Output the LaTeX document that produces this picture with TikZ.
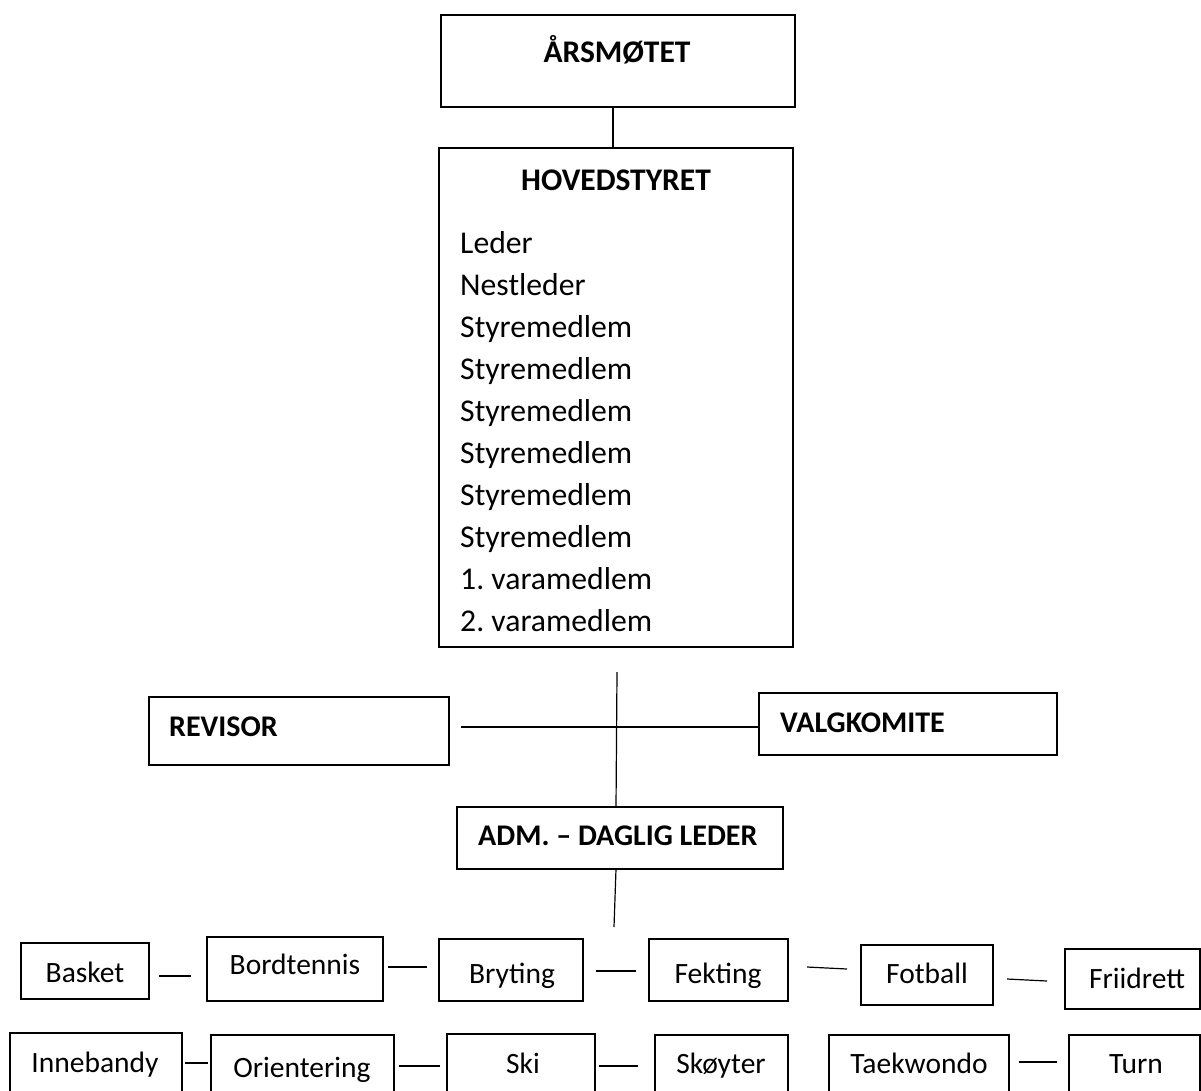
\documentclass[tikz,border=0pt]{standalone}
\usepackage{fontspec}
\setmainfont{Carlito}
\frenchspacing
\tikzset{
  box/.style={draw=black, line width=1.3pt, rectangle, inner sep=0pt},
  conn/.style={draw=black, line width=1.2pt},
  txt/.style={inner sep=0pt, anchor=base, text=black},
  head/.style={txt, font=\fontsize{31.5}{37}\selectfont\bfseries},
  subhead/.style={txt, font=\fontsize{30}{36}\selectfont\bfseries},
  member/.style={txt, anchor=base west, font=\fontsize{31.7}{38}\selectfont},
  sport/.style={txt, font=\fontsize{29.5}{35}\selectfont}
}
\newcommand\mkbox[5]{\node[box, minimum width=#4pt, minimum height=#5pt] (#1) at (#2,#3) {};}
\begin{document}
\begin{tikzpicture}[x=1pt,y=-1pt]
\useasboundingbox (0,0) rectangle (1201,1090);
% boxes
\mkbox{ars}{618}{61}{354}{92}
\mkbox{hov}{616}{397.5}{354}{499}
\mkbox{rev}{299}{731}{300}{68}
\mkbox{valg}{908}{724}{298}{62}
\mkbox{adm}{620}{838}{326}{62}
\mkbox{basket}{85}{971}{128}{56}
\mkbox{bord}{295}{969}{176}{64}
\mkbox{bryt}{511}{970}{144}{62}
\mkbox{fekt}{718.5}{970}{139}{62}
\mkbox{fotb}{927}{975}{132}{60}
\mkbox{frii}{1132.5}{979}{135}{60}
\mkbox{inne}{96}{1066.5}{172}{67}
\mkbox{orie}{302.5}{1067.5}{183}{65}
\mkbox{ski}{521}{1067}{148}{66}
\mkbox{skoy}{721.5}{1067.5}{133}{65}
\mkbox{taek}{919}{1067.5}{180}{65}
\mkbox{turn}{1134.5}{1067.5}{131}{65}
% texts
\node[head] (tars) at (617,62) {ÅRSMØTET};
\node[head] (thov) at (616,190) {HOVEDSTYRET};
\foreach \t [count=\i from 0] in {Leder,Nestleder,Styremedlem,Styremedlem,Styremedlem,Styremedlem,Styremedlem,Styremedlem,1. varamedlem,2. varamedlem}
  \node[member] (m\i) at (460,{253+42.1*\i}) {\t};
\node[subhead, anchor=base west] (trev) at (169,736) {REVISOR};
\node[subhead, anchor=base west] (tvalg) at (780,732) {VALGKOMITE};
\node[subhead, anchor=base west] (tadm) at (478,845) {ADM. – DAGLIG LEDER};
\node[sport] (tbasket) at (85,982) {Basket};
\node[sport] (tbord) at (295,974) {Bordtennis};
\node[sport] (tbryt) at (512,983) {Bryting};
\node[sport] (tfekt) at (718,983) {Fekting};
\node[sport] (tfotb) at (927,983) {Fotball};
\node[sport] (tfrii) at (1137,988) {Friidrett};
\node[sport] (tinne) at (95,1072) {Innebandy};
\node[sport] (torie) at (302,1077) {Orientering};
\node[sport] (tski) at (523,1073) {Ski};
\node[sport] (tskoy) at (721,1073) {Skøyter};
\node[sport] (ttaek) at (919,1073) {Taekwondo};
\node[sport] (tturn) at (1136,1073) {Turn};
% connector coordinates
\coordinate (a1) at (613,107); \coordinate (a2) at (613,148);
\coordinate (v1) at (617,672); \coordinate (v2) at (616,807);
\coordinate (h1) at (461,727); \coordinate (h2) at (759,727);
\coordinate (d1) at (616,869); \coordinate (d2) at (614,927);
\draw[conn] (a1) -- (a2);
\draw[conn] (v1) -- (v2);
\draw[conn] (h1) -- (h2);
\draw[conn] (d1) -- (d2);
% bottom row connectors
\coordinate (b1a) at (159,976);  \coordinate (b1b) at (191,976);
\coordinate (b2a) at (388,967);  \coordinate (b2b) at (427,967);
\coordinate (b3a) at (596,971);  \coordinate (b3b) at (636,971);
\coordinate (b4a) at (807,967);  \coordinate (b4b) at (847,969);
\coordinate (b5a) at (1007,979); \coordinate (b5b) at (1047,981);
\coordinate (c1a) at (185,1063); \coordinate (c1b) at (208,1063);
\coordinate (c2a) at (399,1066); \coordinate (c2b) at (440,1066);
\coordinate (c3a) at (599,1066); \coordinate (c3b) at (638,1066);
\coordinate (c4a) at (1019,1062); \coordinate (c4b) at (1057,1062);
\foreach \p in {b1,b2,b3,b4,b5,c1,c2,c3,c4}
  \draw[conn] (\p a) -- (\p b);
\end{tikzpicture}
\end{document}
